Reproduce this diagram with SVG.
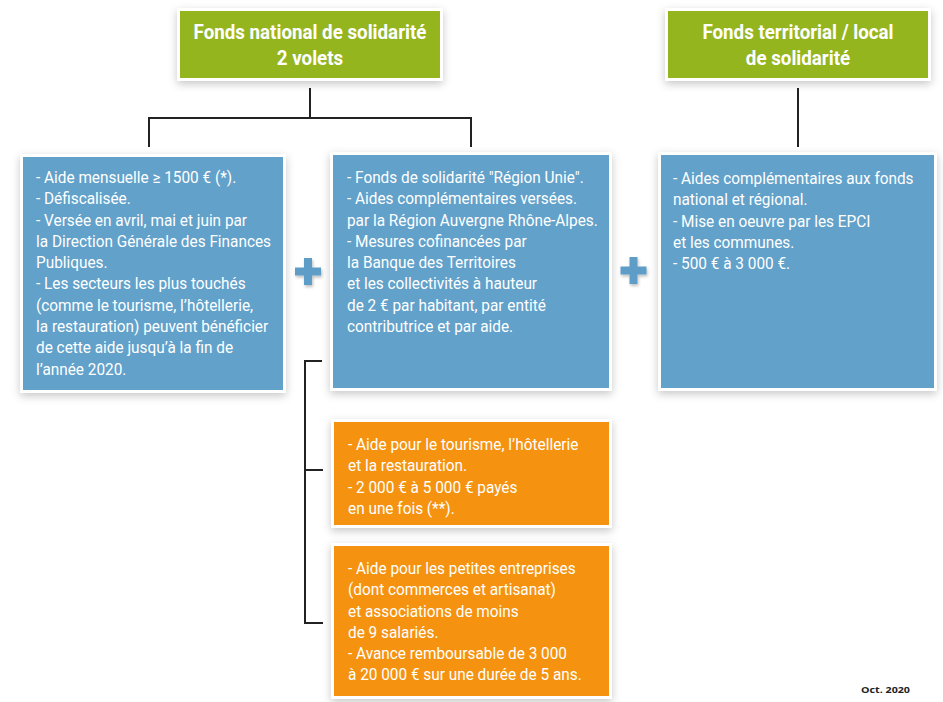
<svg xmlns="http://www.w3.org/2000/svg" width="943" height="702" viewBox="0 0 943 702">
<defs>
<filter id="sh" x="-10%" y="-10%" width="120%" height="125%">
<feDropShadow dx="0" dy="3" stdDeviation="4" flood-color="#000" flood-opacity="0.22"/>
</filter>
<filter id="psh" x="-30%" y="-30%" width="160%" height="160%">
<feDropShadow dx="1" dy="2" stdDeviation="1.5" flood-color="#000" flood-opacity="0.25"/>
</filter>
<style>
.frame{fill:#fff;filter:url(#sh)}
.green{fill:#95b51f}
.blue{fill:#62a1ca}
.orange{fill:#f59310}
.plus{fill:#5d9dc8;filter:url(#psh)}
.hd{font-family:Roboto,"Liberation Sans",sans-serif;font-weight:bold;font-size:20px;fill:#fff;text-anchor:middle}
.bd{font-family:Roboto,"Liberation Sans",sans-serif;font-size:16px;fill:#fff}
.ln{fill:none;stroke:#222;stroke-width:2}
.foot{font-family:"Open Sans","Liberation Sans",sans-serif;font-weight:bold;font-size:9.5px;fill:#222}
</style>
</defs>
<rect width="943" height="702" fill="#fff"/>

<g id="connectors">
<path class="ln" d="M310 88 V118 M149 147 V118 H471 V147"/>
<path class="ln" d="M798 88 V147"/>
<path class="ln" d="M322 361 H305 V623 H323 M305 470 H323"/>
</g>

<g id="head-national">
<rect class="frame" x="177" y="8" width="266" height="73"/>
<rect class="green" x="180" y="11" width="260" height="67"/>
<text class="hd" transform="translate(310 0) scale(0.937 1)"><tspan x="0" y="39">Fonds national de solidarité</tspan><tspan x="0" y="65">2 volets</tspan></text>
</g>

<g id="head-local">
<rect class="frame" x="665" y="8" width="266" height="73"/>
<rect class="green" x="668" y="11" width="260" height="67"/>
<text class="hd" transform="translate(798 0) scale(0.937 1)"><tspan x="0" y="39">Fonds territorial / local</tspan><tspan x="0" y="65">de solidarité</tspan></text>
</g>

<g id="box-national">
<rect class="frame" x="20" y="154" width="266" height="239"/>
<rect class="blue" x="23" y="157" width="260" height="233"/>
<text class="bd" transform="translate(36 0) scale(0.96 1)">
<tspan x="0" y="183">- Aide mensuelle ≥ 1500 € (*).</tspan>
<tspan x="0" y="204.3">- Défiscalisée.</tspan>
<tspan x="0" y="225.6">- Versée en avril, mai et juin par</tspan>
<tspan x="0" y="246.9">la Direction Générale des Finances</tspan>
<tspan x="0" y="268.2">Publiques.</tspan>
<tspan x="0" y="289.5">- Les secteurs les plus touchés</tspan>
<tspan x="0" y="310.8">(comme le tourisme, l’hôtellerie,</tspan>
<tspan x="0" y="332.1">la restauration) peuvent bénéficier</tspan>
<tspan x="0" y="353.4">de cette aide jusqu’à la fin de</tspan>
<tspan x="0" y="374.7">l’année 2020.</tspan>
</text>
</g>

<g id="plus-1">
<path class="plus" d="M304 258 h8 v9.5 h9 v8 h-9 v9.5 h-8 v-9.5 h-9 v-8 h9 z"/>
</g>

<g id="box-region">
<rect class="frame" x="330" y="152" width="282" height="239"/>
<rect class="blue" x="333" y="155" width="276" height="233"/>
<text class="bd" transform="translate(347 0) scale(0.96 1)">
<tspan x="0" y="183">- Fonds de solidarité "Région Unie".</tspan>
<tspan x="0" y="204.3">- Aides complémentaires versées.</tspan>
<tspan x="0" y="225.6">par la Région Auvergne Rhône-Alpes.</tspan>
<tspan x="0" y="246.9">- Mesures cofinancées par</tspan>
<tspan x="0" y="268.2">la Banque des Territoires</tspan>
<tspan x="0" y="289.5">et les collectivités à hauteur</tspan>
<tspan x="0" y="310.8">de 2 € par habitant, par entité</tspan>
<tspan x="0" y="332.1">contributrice et par aide.</tspan>
</text>
</g>

<g id="plus-2">
<path class="plus" d="M629.5 257 h8 v9.5 h9 v8 h-9 v9.5 h-8 v-9.5 h-9 v-8 h9 z"/>
</g>

<g id="box-local">
<rect class="frame" x="658" y="152" width="279" height="239"/>
<rect class="blue" x="661" y="155" width="273" height="233"/>
<text class="bd" transform="translate(673 0) scale(0.96 1)">
<tspan x="0" y="184">- Aides complémentaires aux fonds</tspan>
<tspan x="0" y="205.3">national et régional.</tspan>
<tspan x="0" y="226.6">- Mise en oeuvre par les EPCI</tspan>
<tspan x="0" y="247.9">et les communes.</tspan>
<tspan x="0" y="269.2">- 500 € à 3 000 €.</tspan>
</text>
</g>

<g id="box-tourisme">
<rect class="frame" x="331" y="419" width="281" height="109"/>
<rect class="orange" x="334" y="422" width="275" height="103"/>
<text class="bd" transform="translate(348 0) scale(0.96 1)">
<tspan x="0" y="450">- Aide pour le tourisme, l’hôtellerie</tspan>
<tspan x="0" y="471.3">et la restauration.</tspan>
<tspan x="0" y="492.6">- 2 000 € à 5 000 € payés</tspan>
<tspan x="0" y="513.9">en une fois (**).</tspan>
</text>
</g>

<g id="box-entreprises">
<rect class="frame" x="331" y="543" width="281" height="156"/>
<rect class="orange" x="334" y="546" width="275" height="150"/>
<text class="bd" transform="translate(348 0) scale(0.96 1)">
<tspan x="0" y="574">- Aide pour les petites entreprises</tspan>
<tspan x="0" y="595.3">(dont commerces et artisanat)</tspan>
<tspan x="0" y="616.6">et associations de moins</tspan>
<tspan x="0" y="637.9">de 9 salariés.</tspan>
<tspan x="0" y="659.2">- Avance remboursable de 3 000</tspan>
<tspan x="0" y="680.5">à 20 000 € sur une durée de 5 ans.</tspan>
</text>
</g>

<text class="foot" x="861" y="693" textLength="49" lengthAdjust="spacingAndGlyphs">Oct. 2020</text>
</svg>
